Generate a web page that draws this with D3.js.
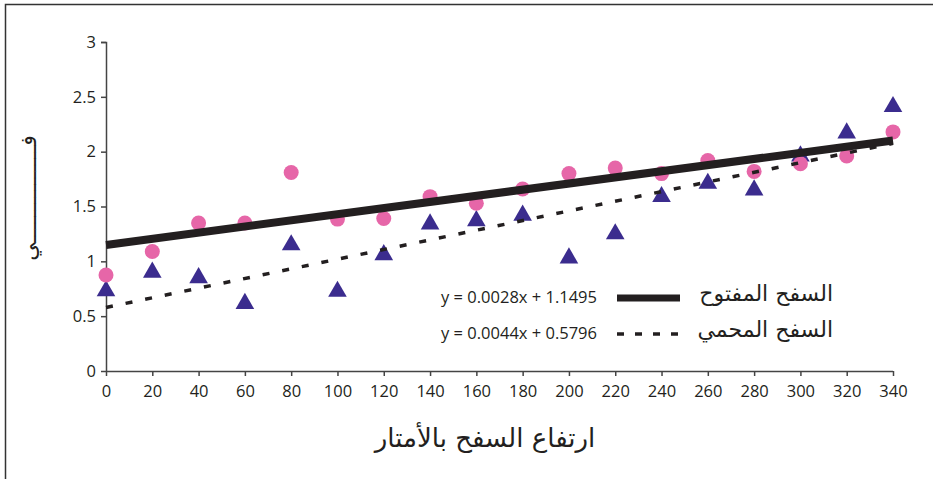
<!DOCTYPE html>
<html><head><meta charset="utf-8">
<script src="https://cdn.jsdelivr.net/npm/d3@7"></script>
<style>
html,body{margin:0;padding:0;background:#fff;}
svg{display:block;}
</style></head>
<body>
<script>
const heights = [0,20,40,60,80,100,120,140,160,180,200,220,240,260,280,300,320,340];
const openSlope = [0.875,1.09,1.35,1.35,1.81,1.385,1.39,1.59,1.53,1.66,1.80,1.85,1.80,1.92,1.82,1.89,1.96,2.18];
const protectedSlope = [0.73,0.90,0.85,0.615,1.15,0.725,1.06,1.34,1.37,1.42,1.03,1.25,1.59,1.71,1.65,1.96,2.17,2.41];
const yTicks = [0,0.5,1,1.5,2,2.5,3];
const seriesNames = ["السفح المفتوح","السفح المحمي"];
const trendOpen = {slope:0.0028, intercept:1.1495, label:"y = 0.0028x + 1.1495"};
const trendProt = {slope:0.0044, intercept:0.5796, label:"y = 0.0044x + 0.5796"};
const xTitle = "ارتفاع السفح بالأمتار";
const yTitle = "فـــــــــــــــي";

const W=933,H=479;
const svg=d3.select("body").append("svg").attr("width",W).attr("height",H);

// frame
svg.append("path").attr("d","M5.5,479 L5.5,4.5 L933,4.5").attr("fill","none").attr("stroke","#333").attr("stroke-width",1.5);

const x=d3.scaleLinear().domain([0,340]).range([106,893]);
const y=d3.scaleLinear().domain([0,3]).range([371,42]);

const axisColor="#444";
const tickFont="'Open Sans', 'Noto Sans', sans-serif";

const gy=svg.append("g").attr("transform","translate(106,0)")
  .call(d3.axisLeft(y).tickValues(yTicks).tickFormat(d3.format("")).tickSize(5).tickPadding(5));
const gx=svg.append("g").attr("transform","translate(0,371)")
  .call(d3.axisBottom(x).tickValues(heights).tickFormat(d3.format("")).tickSize(5).tickPadding(9));
[gy,gx].forEach(g=>{
  g.select(".domain").attr("stroke",axisColor).attr("stroke-width",1.5);
  g.selectAll(".tick line").attr("stroke",axisColor).attr("stroke-width",1.5);
  g.selectAll(".tick text").attr("fill","#231f20").style("font-family",tickFont).style("font-size","16.5px");
});
gx.select(".domain").attr("d","M106,0.5H893");
gy.select(".domain").attr("d","M-5,42.5H0.5V371");

// markers
svg.append("g").selectAll("path").data(heights).join("path")
  .attr("d",d3.symbol(d3.symbolTriangle,150))
  .attr("transform",(d,i)=>`translate(${x(d)},${y(protectedSlope[i])})`)
  .attr("fill","#3b2c8e");
svg.append("g").selectAll("circle").data(heights).join("circle")
  .attr("cx",d=>x(d)).attr("cy",(d,i)=>y(openSlope[i])).attr("r",7.5)
  .attr("fill","#e666a8");

// trend lines
const lineColor="#231f20";
svg.append("line").attr("x1",x(0)).attr("x2",x(340))
  .attr("y1",y(trendOpen.intercept)).attr("y2",y(trendOpen.intercept+trendOpen.slope*340))
  .attr("stroke",lineColor).attr("stroke-width",8);
svg.append("line").attr("x1",x(0)).attr("x2",x(340))
  .attr("y1",y(trendProt.intercept)).attr("y2",y(trendProt.intercept+trendProt.slope*340))
  .attr("stroke",lineColor).attr("stroke-width",3.5).attr("stroke-dasharray","7,13");

// legend
const arFont="'DejaVu Sans', 'Noto Sans', sans-serif";
const leg=svg.append("g");
leg.append("text").attr("x",597).attr("y",303).attr("text-anchor","end")
  .style("font-family",tickFont).style("font-size","16.5px").attr("fill","#231f20").text(trendOpen.label);
leg.append("line").attr("x1",617).attr("x2",680).attr("y1",298).attr("y2",298).attr("stroke",lineColor).attr("stroke-width",7);
leg.append("text").attr("x",833).attr("y",301).attr("text-anchor","end")
  .style("font-family",arFont).style("font-size","22px").attr("fill","#231f20").text(seriesNames[0]);
leg.append("text").attr("x",597).attr("y",339).attr("text-anchor","end")
  .style("font-family",tickFont).style("font-size","16.5px").attr("fill","#231f20").text(trendProt.label);
leg.append("line").attr("x1",617).attr("x2",680).attr("y1",334).attr("y2",334).attr("stroke",lineColor).attr("stroke-width",3.5).attr("stroke-dasharray","7,11");
leg.append("text").attr("x",833).attr("y",337).attr("text-anchor","end")
  .style("font-family",arFont).style("font-size","22px").attr("fill","#231f20").text(seriesNames[1]);

// axis titles
svg.append("text").attr("x",485).attr("y",447).attr("text-anchor","middle")
  .style("font-family",arFont).style("font-size","26px").attr("fill","#231f20").text(xTitle);
svg.append("text").attr("transform","translate(36,198) rotate(-90)").attr("text-anchor","middle")
  .style("font-family",arFont).style("font-size","22px").attr("fill","#231f20").text(yTitle);
</script>
</body></html>
